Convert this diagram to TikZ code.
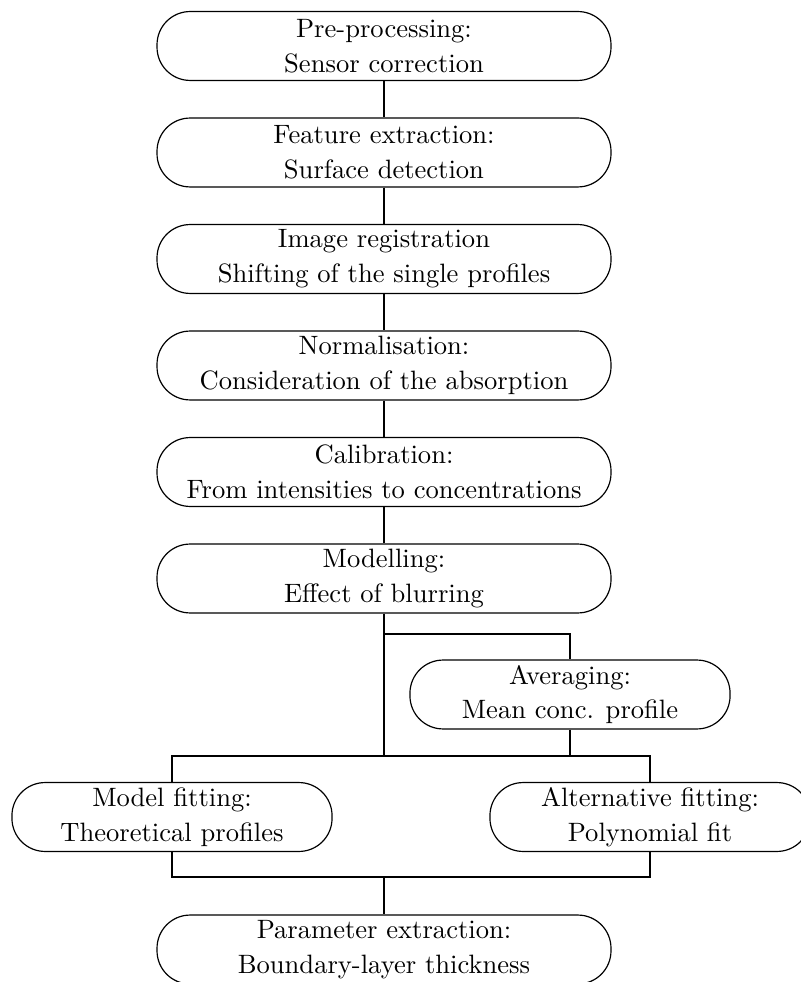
\documentclass[tikz,border=0pt]{standalone}
\begin{document}
\begin{tikzpicture}[x=0.3802pt,y=-0.3802pt,
  box/.style={draw,line width=0.45pt,rounded corners=12.6pt,align=center,
    font=\fontsize{10.1pt}{13.2pt}\selectfont,inner sep=0pt,
    minimum height=26.2pt,minimum width=172.6pt},
  sbox/.style={box,minimum width=121.7pt},
  conn/.style={line width=0.85pt}]
\useasboundingbox (0,0) rectangle (800,982);
\node[box] (b1) at (384,46) {Pre-processing:\\Sensor correction};
\node[box] (b2) at (384,152.5) {Feature extraction:\\Surface detection};
\node[box] (b3) at (384,259) {Image registration\\Shifting of the single profiles};
\node[box] (b4) at (384,365.5) {Normalisation:\\Consideration of the absorption};
\node[box] (b5) at (384,472) {Calibration:\\From intensities to concentrations};
\node[box] (b6) at (384,578.5) {Modelling:\\Effect of blurring};
\node[sbox] (avg) at (570,694.5) {Averaging:\\Mean conc. profile};
\node[sbox] (model) at (172,817) {Model fitting:\\Theoretical profiles};
\node[sbox] (alt) at (650,817) {Alternative fitting:\\Polynomial fit};
\node[box] (param) at (384,949.5) {Parameter extraction:\\Boundary-layer thickness};
\coordinate (j1) at (384,634);
\coordinate (j2) at (384,756);
\coordinate (j3) at (384,877);
\draw[conn] (b1) -- (b2);
\draw[conn] (b2) -- (b3);
\draw[conn] (b3) -- (b4);
\draw[conn] (b4) -- (b5);
\draw[conn] (b5) -- (b6);
\draw[conn] (b6.south) -- (j2);
\draw[conn] (j1) -| (avg.north);
\draw[conn] (avg.south) -- (avg.south |- j2);
\draw[conn] (model.north) |- (j2) -| (alt.north);
\draw[conn] (model.south) |- (j3) -| (alt.south);
\draw[conn] (j3) -- (param.north);
\end{tikzpicture}
\end{document}
